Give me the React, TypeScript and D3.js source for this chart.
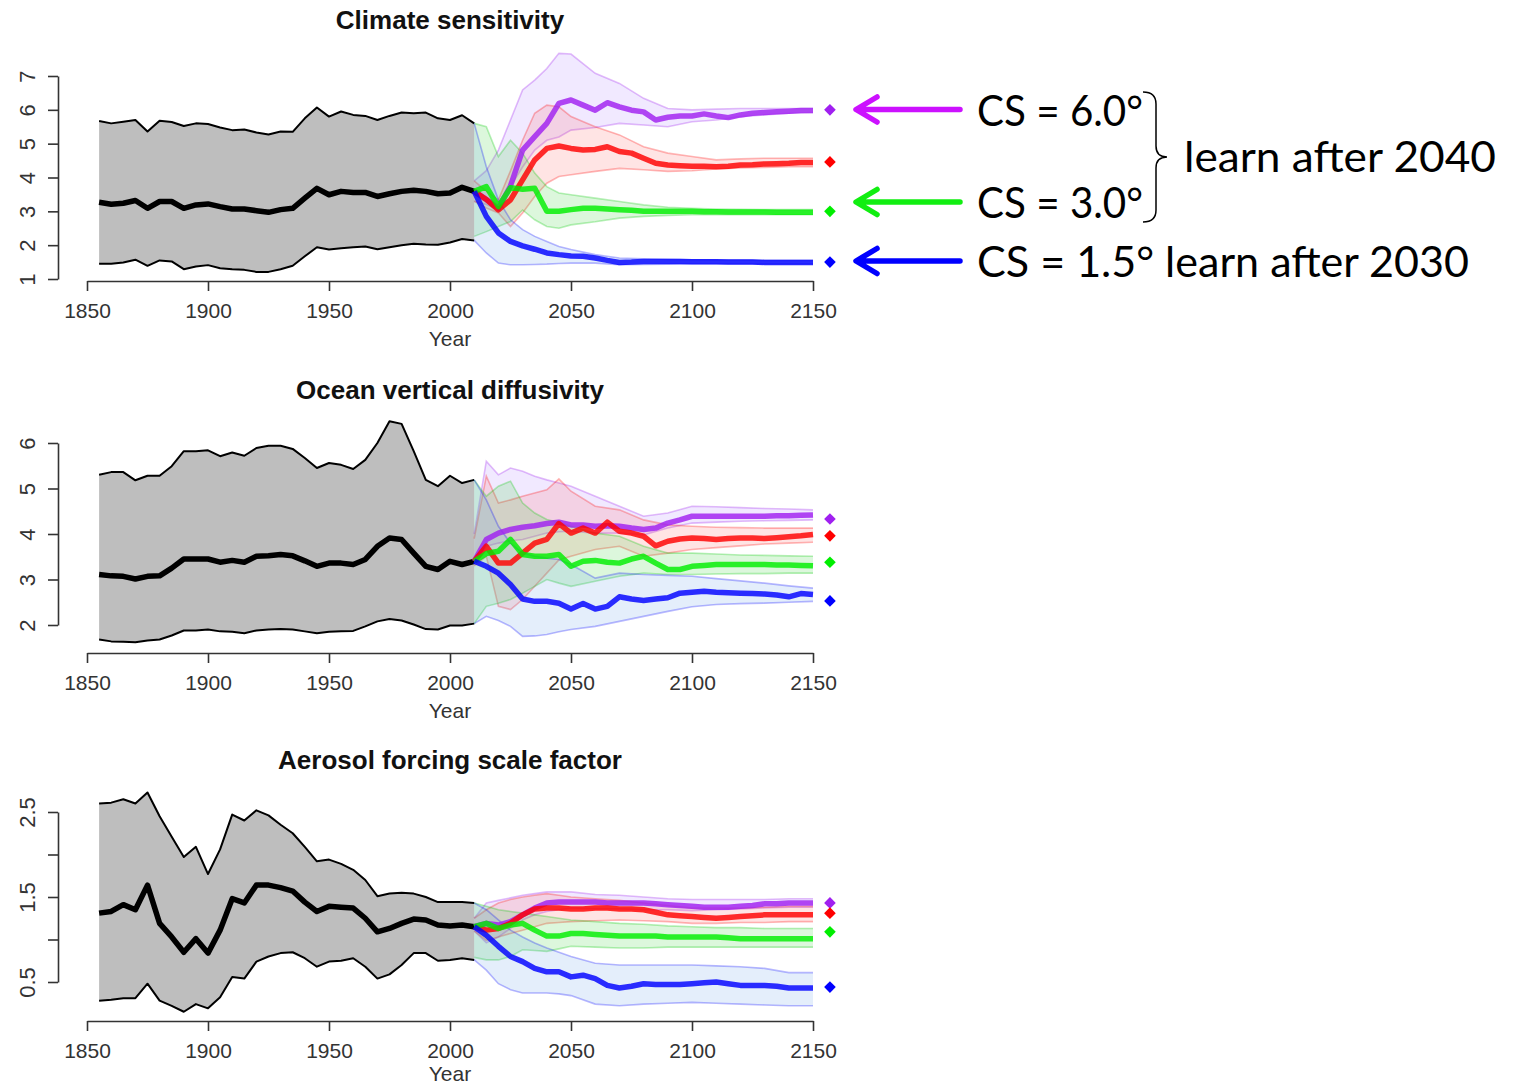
import React, { useEffect, useRef } from 'react';
import * as d3 from 'd3';

// ---- years ----
const HIST_YEARS = [1855, 1860, 1865, 1870, 1875, 1880, 1885, 1890, 1895, 1900, 1905, 1910, 1915, 1920, 1925, 1930,
  1935, 1940, 1945, 1950, 1955, 1960, 1965, 1970, 1975, 1980, 1985, 1990, 1995, 2000, 2005, 2010];
const FUT_YEARS = [2010, 2015, 2020, 2025, 2030, 2035, 2040, 2045, 2050, 2055, 2060, 2065, 2070, 2075, 2080, 2085,
  2090, 2095, 2100, 2105, 2110, 2115, 2120, 2125, 2130, 2135, 2140, 2145, 2150];
const BAND_YEARS = [2010, 2015, 2020, 2025, 2030, 2035, 2040, 2045, 2050, 2060, 2070, 2080, 2090, 2100, 2110, 2120,
  2130, 2140, 2150];
const DIAMOND_YEAR = 2157;
const X_TICKS = [1850, 1900, 1950, 2000, 2050, 2100, 2150];

// scenario order: purple (CS 6.0), red, green (CS 3.0), blue (CS 1.5)
const LINE_COLORS = ['#a020f0', '#ff0000', '#00ee00', '#0000ff'];
const BAND_FILLS = ['rgba(170,120,255,0.16)', 'rgba(255,90,90,0.16)', 'rgba(60,210,60,0.18)', 'rgba(90,150,230,0.16)'];
const BAND_EDGES = ['rgba(160,32,240,0.3)', 'rgba(255,0,0,0.28)', 'rgba(0,200,0,0.28)', 'rgba(0,0,255,0.28)'];

// ---- Climate sensitivity ----
const CS_HIST_HI = [5.67, 5.60, 5.65, 5.70, 5.36, 5.68, 5.64, 5.52, 5.60, 5.58, 5.48, 5.40, 5.42, 5.33, 5.27, 5.36,
  5.35, 5.75, 6.07, 5.80, 5.95, 5.85, 5.82, 5.70, 5.82, 5.92, 5.90, 5.92, 5.75, 5.70, 5.84, 5.60];
const CS_HIST_MED = [3.27, 3.21, 3.24, 3.32, 3.09, 3.29, 3.29, 3.09, 3.19, 3.22, 3.14, 3.07, 3.07, 3.02, 2.97, 3.05,
  3.09, 3.39, 3.68, 3.49, 3.59, 3.56, 3.56, 3.44, 3.52, 3.59, 3.62, 3.59, 3.52, 3.54, 3.71, 3.59];
const CS_HIST_LO = [1.45, 1.45, 1.49, 1.57, 1.39, 1.55, 1.52, 1.29, 1.37, 1.41, 1.32, 1.29, 1.27, 1.21, 1.21, 1.29,
  1.39, 1.67, 1.94, 1.87, 1.91, 1.94, 1.96, 1.88, 1.94, 2.00, 2.04, 2.02, 2.01, 2.08, 2.18, 2.14];
const CS_MED = [
  [3.59, 3.35, 3.09, 3.75, 4.81, 5.21, 5.60, 6.19, 6.29, 6.14, 5.99, 6.21, 6.09, 5.99, 5.94, 5.70, 5.78, 5.82, 5.82,
    5.88, 5.82, 5.77, 5.85, 5.90, 5.92, 5.94, 5.96, 5.98, 5.98],
  [3.59, 3.35, 3.04, 3.34, 3.93, 4.52, 4.86, 4.93, 4.86, 4.81, 4.83, 4.91, 4.77, 4.72, 4.57, 4.42, 4.37, 4.35, 4.33,
    4.33, 4.32, 4.33, 4.37, 4.38, 4.40, 4.41, 4.42, 4.44, 4.44],
  [3.59, 3.73, 3.14, 3.70, 3.65, 3.68, 3.00, 3.00, 3.05, 3.09, 3.09, 3.07, 3.05, 3.03, 3.00, 3.00, 3.00, 3.00, 3.00,
    2.99, 2.99, 2.98, 2.98, 2.98, 2.98, 2.97, 2.97, 2.97, 2.97],
  [3.59, 2.85, 2.36, 2.11, 1.98, 1.88, 1.77, 1.72, 1.68, 1.67, 1.62, 1.55, 1.49, 1.50, 1.52, 1.52, 1.52, 1.52, 1.51,
    1.51, 1.51, 1.50, 1.50, 1.50, 1.49, 1.49, 1.49, 1.49, 1.49],
];
const CS_HI = [
  [3.90, 4.20, 4.81, 5.70, 6.59, 6.88, 7.22, 7.67, 7.65, 7.08, 6.78, 6.34, 6.04, 6.00, 6.02, 6.04, 6.04, 6.04, 6.04],
  [3.90, 3.60, 3.34, 4.20, 5.10, 5.90, 6.14, 6.09, 5.80, 5.50, 5.26, 4.91, 4.72, 4.62, 4.52, 4.55, 4.57, 4.57, 4.57],
  [5.60, 5.50, 4.62, 5.10, 4.72, 4.13, 3.73, 3.54, 3.49, 3.39, 3.29, 3.19, 3.12, 3.09, 3.07, 3.06, 3.05, 3.05, 3.05],
  [5.60, 4.32, 3.34, 2.75, 2.46, 2.26, 2.11, 1.96, 1.87, 1.72, 1.62, 1.60, 1.58, 1.57, 1.56, 1.56, 1.55, 1.55, 1.55],
];
const CS_LO = [
  [3.30, 3.20, 3.05, 3.73, 4.31, 4.81, 5.10, 5.20, 5.40, 5.48, 5.60, 5.55, 5.50, 5.65, 5.70, 5.80, 5.85, 5.90, 5.92],
  [3.30, 3.10, 2.95, 2.55, 2.95, 3.44, 3.83, 4.03, 4.08, 4.18, 4.27, 4.23, 4.18, 4.20, 4.25, 4.28, 4.30, 4.32, 4.32],
  [2.26, 2.40, 2.55, 2.70, 3.04, 2.75, 2.55, 2.50, 2.60, 2.69, 2.80, 2.85, 2.88, 2.90, 2.90, 2.90, 2.90, 2.90, 2.90],
  [2.14, 1.77, 1.47, 1.42, 1.42, 1.43, 1.44, 1.46, 1.47, 1.47, 1.42, 1.43, 1.44, 1.45, 1.45, 1.45, 1.45, 1.45, 1.45],
];
const CS_DIAMONDS = [6.0, 4.46, 3.0, 1.5];

// ---- Ocean vertical diffusivity ----
const OVD_HIST_HI = [5.30, 5.36, 5.36, 5.18, 5.28, 5.28, 5.49, 5.82, 5.82, 5.84, 5.71, 5.79, 5.72, 5.89, 5.94, 5.94,
  5.87, 5.67, 5.45, 5.56, 5.52, 5.43, 5.63, 6.00, 6.48, 6.42, 5.82, 5.19, 5.05, 5.28, 5.12, 5.19];
const OVD_HIST_MED = [3.11, 3.08, 3.07, 3.01, 3.07, 3.08, 3.25, 3.45, 3.45, 3.45, 3.38, 3.42, 3.38, 3.51, 3.52, 3.55,
  3.52, 3.41, 3.29, 3.36, 3.36, 3.33, 3.44, 3.73, 3.91, 3.88, 3.58, 3.29, 3.22, 3.40, 3.33, 3.40];
const OVD_HIST_LO = [1.68, 1.64, 1.63, 1.62, 1.66, 1.68, 1.77, 1.88, 1.88, 1.90, 1.86, 1.85, 1.82, 1.88, 1.90, 1.91,
  1.90, 1.86, 1.82, 1.85, 1.86, 1.87, 1.97, 2.08, 2.13, 2.10, 2.01, 1.91, 1.90, 1.99, 1.99, 2.03];
const OVD_MED = [
  [3.40, 3.88, 4.02, 4.10, 4.15, 4.18, 4.23, 4.26, 4.20, 4.20, 4.17, 4.18, 4.17, 4.13, 4.10, 4.13, 4.24, 4.31, 4.39,
    4.39, 4.39, 4.39, 4.39, 4.39, 4.39, 4.40, 4.40, 4.41, 4.42],
  [3.40, 3.73, 3.36, 3.36, 3.58, 3.80, 3.88, 4.23, 4.02, 4.13, 4.02, 4.26, 4.06, 4.02, 3.95, 3.74, 3.84, 3.89, 3.91,
    3.90, 3.88, 3.90, 3.91, 3.91, 3.90, 3.92, 3.94, 3.96, 3.99],
  [3.40, 3.57, 3.62, 3.88, 3.55, 3.51, 3.51, 3.55, 3.29, 3.40, 3.42, 3.38, 3.36, 3.45, 3.51, 3.36, 3.22, 3.22, 3.29,
    3.31, 3.33, 3.33, 3.33, 3.33, 3.33, 3.32, 3.32, 3.31, 3.30],
  [3.40, 3.29, 3.14, 2.89, 2.57, 2.52, 2.52, 2.48, 2.35, 2.47, 2.35, 2.41, 2.62, 2.57, 2.54, 2.57, 2.60, 2.70, 2.72,
    2.74, 2.72, 2.71, 2.70, 2.69, 2.68, 2.66, 2.62, 2.69, 2.67],
];
const OVD_HI = [
  [4.00, 5.60, 5.30, 5.45, 5.38, 5.27, 5.19, 5.12, 5.05, 4.83, 4.61, 4.39, 4.46, 4.61, 4.60, 4.58, 4.56, 4.55, 4.53],
  [3.90, 5.27, 4.68, 4.75, 4.83, 4.90, 4.97, 5.21, 4.94, 4.61, 4.53, 4.31, 4.20, 4.17, 4.15, 4.14, 4.13, 4.13, 4.13],
  [5.19, 4.83, 5.05, 5.16, 4.68, 4.46, 4.32, 4.25, 4.17, 4.02, 3.95, 3.73, 3.58, 3.58, 3.56, 3.54, 3.53, 3.52, 3.51],
  [5.19, 4.75, 4.17, 3.80, 3.58, 3.51, 3.47, 3.44, 3.33, 3.03, 3.14, 3.11, 3.09, 3.07, 3.02, 2.97, 2.92, 2.86, 2.81],
];
const OVD_LO = [
  [3.40, 3.73, 3.80, 3.85, 3.88, 3.95, 4.02, 4.05, 4.06, 4.02, 4.02, 3.98, 4.13, 4.24, 4.26, 4.28, 4.29, 4.30, 4.31],
  [3.30, 3.51, 2.41, 2.34, 2.56, 2.85, 3.14, 3.43, 3.51, 3.66, 3.73, 3.51, 3.58, 3.66, 3.70, 3.74, 3.78, 3.80, 3.82],
  [2.03, 2.41, 2.48, 2.56, 2.70, 2.85, 3.00, 2.92, 2.85, 2.96, 3.07, 3.14, 3.11, 3.11, 3.12, 3.13, 3.13, 3.14, 3.14],
  [2.03, 2.19, 2.10, 1.97, 1.75, 1.76, 1.79, 1.85, 1.90, 1.97, 2.08, 2.19, 2.30, 2.40, 2.45, 2.47, 2.48, 2.50, 2.52],
];
const OVD_DIAMONDS = [4.33, 3.96, 3.38, 2.53];

// ---- Aerosol forcing scale factor ----
const AER_HIST_HI = [2.60, 2.61, 2.65, 2.60, 2.73, 2.45, 2.21, 1.97, 2.09, 1.77, 2.06, 2.47, 2.40, 2.52, 2.46, 2.35,
  2.25, 2.09, 1.92, 1.94, 1.89, 1.82, 1.70, 1.51, 1.54, 1.55, 1.54, 1.50, 1.44, 1.44, 1.44, 1.43];
const AER_HIST_MED = [1.31, 1.33, 1.41, 1.35, 1.64, 1.19, 1.03, 0.85, 1.01, 0.84, 1.11, 1.48, 1.43, 1.64, 1.64, 1.61,
  1.57, 1.44, 1.33, 1.39, 1.38, 1.37, 1.25, 1.09, 1.13, 1.19, 1.24, 1.23, 1.17, 1.16, 1.17, 1.15];
const AER_HIST_LO = [0.28, 0.29, 0.31, 0.31, 0.48, 0.28, 0.22, 0.15, 0.24, 0.19, 0.32, 0.56, 0.54, 0.74, 0.80, 0.84,
  0.85, 0.78, 0.68, 0.74, 0.75, 0.78, 0.68, 0.54, 0.59, 0.70, 0.84, 0.84, 0.75, 0.76, 0.78, 0.76];
const AER_MED = [
  [1.15, 1.19, 1.17, 1.21, 1.29, 1.37, 1.43, 1.44, 1.44, 1.44, 1.44, 1.43, 1.43, 1.43, 1.43, 1.42, 1.41, 1.40, 1.39,
    1.38, 1.38, 1.38, 1.39, 1.40, 1.42, 1.42, 1.43, 1.43, 1.43],
  [1.15, 1.11, 1.13, 1.19, 1.29, 1.36, 1.37, 1.37, 1.36, 1.36, 1.37, 1.37, 1.36, 1.36, 1.35, 1.32, 1.29, 1.28, 1.27,
    1.26, 1.25, 1.26, 1.27, 1.28, 1.29, 1.29, 1.29, 1.29, 1.29],
  [1.15, 1.19, 1.13, 1.17, 1.19, 1.11, 1.04, 1.04, 1.07, 1.07, 1.06, 1.05, 1.04, 1.04, 1.04, 1.04, 1.03, 1.03, 1.03,
    1.03, 1.03, 1.02, 1.01, 1.01, 1.01, 1.01, 1.01, 1.01, 1.01],
  [1.15, 1.05, 0.92, 0.80, 0.74, 0.66, 0.62, 0.62, 0.56, 0.58, 0.54, 0.46, 0.43, 0.45, 0.48, 0.47, 0.47, 0.47, 0.48,
    0.49, 0.50, 0.48, 0.46, 0.46, 0.46, 0.45, 0.43, 0.43, 0.43],
];
const AER_HI = [
  [1.25, 1.43, 1.46, 1.49, 1.52, 1.54, 1.56, 1.56, 1.56, 1.53, 1.52, 1.50, 1.48, 1.47, 1.47, 1.47, 1.47, 1.48, 1.48],
  [1.25, 1.35, 1.43, 1.47, 1.50, 1.52, 1.54, 1.52, 1.50, 1.48, 1.46, 1.43, 1.40, 1.37, 1.37, 1.37, 1.38, 1.39, 1.39],
  [1.43, 1.39, 1.35, 1.33, 1.31, 1.29, 1.27, 1.25, 1.23, 1.21, 1.19, 1.18, 1.16, 1.15, 1.14, 1.14, 1.13, 1.13, 1.13],
  [1.43, 1.35, 1.23, 1.11, 1.03, 0.96, 0.90, 0.85, 0.80, 0.72, 0.70, 0.70, 0.70, 0.70, 0.69, 0.68, 0.66, 0.61, 0.61],
];
const AER_LO = [
  [1.10, 0.96, 1.03, 1.13, 1.23, 1.29, 1.33, 1.35, 1.37, 1.36, 1.36, 1.35, 1.35, 1.34, 1.35, 1.36, 1.37, 1.38, 1.38],
  [1.10, 0.99, 1.03, 1.07, 1.11, 1.15, 1.19, 1.20, 1.21, 1.22, 1.23, 1.22, 1.21, 1.19, 1.19, 1.20, 1.20, 1.21, 1.21],
  [0.79, 0.76, 0.76, 0.80, 0.88, 0.87, 0.86, 0.89, 0.92, 0.91, 0.90, 0.90, 0.91, 0.91, 0.91, 0.91, 0.91, 0.91, 0.91],
  [0.76, 0.64, 0.48, 0.41, 0.37, 0.37, 0.37, 0.36, 0.34, 0.24, 0.22, 0.24, 0.25, 0.26, 0.25, 0.24, 0.23, 0.22, 0.22],
];
const AER_DIAMONDS = [1.43, 1.31, 1.09, 0.44];

const PANELS = [
  { title: 'Climate sensitivity', titleY: 29, yDomain: [1, 7], yRange: [279, 76], yTicks: [1, 2, 3, 4, 5, 6, 7],
    yLabels: [1, 2, 3, 4, 5, 6, 7], axisY: 281, yearY: 346, hi: CS_HIST_HI, med: CS_HIST_MED, lo: CS_HIST_LO,
    fmed: CS_MED, fhi: CS_HI, flo: CS_LO, diamonds: CS_DIAMONDS },
  { title: 'Ocean vertical diffusivity', titleY: 399, yDomain: [2, 6], yRange: [625, 443], yTicks: [2, 3, 4, 5, 6],
    yLabels: [2, 3, 4, 5, 6], axisY: 653, yearY: 718, hi: OVD_HIST_HI, med: OVD_HIST_MED, lo: OVD_HIST_LO,
    fmed: OVD_MED, fhi: OVD_HI, flo: OVD_LO, diamonds: OVD_DIAMONDS },
  { title: 'Aerosol forcing scale factor', titleY: 769, yDomain: [0.5, 2.5], yRange: [982, 812],
    yTicks: [0.5, 1, 1.5, 2, 2.5], yLabels: [0.5, 1.5, 2.5], axisY: 1021, yearY: 1081, hi: AER_HIST_HI,
    med: AER_HIST_MED, lo: AER_HIST_LO, fmed: AER_MED, fhi: AER_HI, flo: AER_LO, diamonds: AER_DIAMONDS },
];

const x = d3.scaleLinear().domain([1850, 2150]).range([87, 813]);
const AXIS_FONT = '"Liberation Sans", Arial, Helvetica, sans-serif';

function Panel({ p }: { p: any }) {
  const gx = useRef<SVGGElement>(null);
  const gy = useRef<SVGGElement>(null);
  const y = d3.scaleLinear().domain(p.yDomain).range(p.yRange);

  useEffect(() => {
    const ax = d3.select(gx.current!);
    ax.call(d3.axisBottom(x).tickValues(X_TICKS).tickSize(10).tickSizeOuter(0).tickPadding(12).tickFormat(d3.format('d')) as any);
    ax.selectAll('path, line').attr('stroke', '#333').attr('stroke-width', 1.6);
    ax.selectAll('text').attr('font-size', 21).attr('font-family', AXIS_FONT).attr('fill', '#333');

    const ay = d3.select(gy.current!);
    const fmt = p.yLabels.length < p.yTicks.length ? d3.format('.1f') : d3.format('d');
    ay.call(d3.axisLeft(y).tickValues(p.yTicks).tickSize(10).tickSizeOuter(0)
      .tickFormat((d: any) => (p.yLabels.includes(d) ? fmt(d) : '')) as any);
    ay.selectAll('path, line').attr('stroke', '#333').attr('stroke-width', 1.6);
    ay.selectAll('text').attr('font-size', 22).attr('font-family', AXIS_FONT).attr('fill', '#333')
      .attr('transform', 'rotate(-90)').attr('x', 0).attr('y', -23).attr('dy', 0).attr('text-anchor', 'middle');
  }, []);

  const hist = HIST_YEARS.map((yr, i) => ({ yr, hi: p.hi[i], med: p.med[i], lo: p.lo[i] }));
  const histArea = d3.area<any>().x(d => x(d.yr)).y0(d => y(d.lo)).y1(d => y(d.hi));
  const lineOf = (key: string) => d3.line<any>().x(d => x(d.yr)).y(d => y(d[key]));
  const sym = d3.symbol(d3.symbolSquare, 68)();

  return (
    <g>
      <text x={450} y={p.titleY} textAnchor="middle" fontFamily={AXIS_FONT} fontWeight="bold" fontSize={26}
        fill="#111">{p.title}</text>
      <path d={histArea(hist)!} fill="#bebebe" />
      <path d={lineOf('hi')(hist)!} fill="none" stroke="#000" strokeWidth={2} strokeLinejoin="round" />
      <path d={lineOf('lo')(hist)!} fill="none" stroke="#000" strokeWidth={2} strokeLinejoin="round" />
      {p.fhi.map((hiArr: number[], s: number) => {
        const band = BAND_YEARS.map((yr, i) => ({ yr, hi: hiArr[i], lo: p.flo[s][i] }));
        return (
          <g key={'b' + s}>
            <path d={histArea(band)!} fill={BAND_FILLS[s]} />
            <path d={lineOf('hi')(band)!} fill="none" stroke={BAND_EDGES[s]} strokeWidth={1.6} />
            <path d={lineOf('lo')(band)!} fill="none" stroke={BAND_EDGES[s]} strokeWidth={1.6} />
          </g>
        );
      })}
      <path d={lineOf('med')(hist)!} fill="none" stroke="#000" strokeWidth={5.5} strokeLinejoin="round" />
      {p.fmed.map((medArr: number[], s: number) => {
        const pts = FUT_YEARS.map((yr, i) => ({ yr, med: medArr[i] }));
        return (
          <path key={'m' + s} d={lineOf('med')(pts)!} fill="none" stroke={LINE_COLORS[s]} strokeOpacity={0.82}
            strokeWidth={5.5} strokeLinejoin="round" />
        );
      })}
      {p.diamonds.map((v: number, s: number) => (
        <path key={'d' + s} d={sym!} fill={LINE_COLORS[s]}
          transform={`translate(${x(DIAMOND_YEAR)},${y(v)}) rotate(45)`} />
      ))}
      <g ref={gx} transform={`translate(0,${p.axisY})`} />
      <g ref={gy} transform="translate(58,0)" />
      <text x={450} y={p.yearY} textAnchor="middle" fontFamily={AXIS_FONT} fontSize={21} fill="#333">Year</text>
    </g>
  );
}

const ARROWS = [
  { y: 109.5, color: '#cc11ff', label: 'CS = 6.0°', width: 166 },
  { y: 202, color: '#11ee11', label: 'CS = 3.0°', width: 166 },
  { y: 261, color: '#0000ff', label: 'CS = 1.5° learn after 2030', width: 492 },
];
const NOTE_FONT = 'Lato, "Open Sans", sans-serif';

export default function App() {
  return (
    <svg width={1514} height={1088} style={{ position: 'absolute', left: 0, top: 0, background: '#fff' }}>
      {PANELS.map((p, i) => <Panel key={i} p={p} />)}
      {ARROWS.map((a, i) => (
        <g key={i}>
          <path d={`M960,${a.y}H857M877,${a.y - 12.5}L856,${a.y}L877,${a.y + 12.5}`} fill="none" stroke={a.color}
            strokeWidth={5.5} strokeLinecap="round" strokeLinejoin="round" />
          <text x={977} y={a.y + 16} fontFamily={NOTE_FONT} fontSize={43} fill="#000" textLength={a.width}
            lengthAdjust="spacingAndGlyphs">{a.label}</text>
        </g>
      ))}
      <path d="M1143,92Q1156,92 1156,104V146Q1156,157 1167,157Q1156,157 1156,168V210Q1156,222 1143,222"
        fill="none" stroke="#000" strokeWidth={1.5} />
      <text x={1184} y={172} fontFamily={NOTE_FONT} fontSize={43} fill="#000" textLength={312}
        lengthAdjust="spacingAndGlyphs">learn after 2040</text>
    </svg>
  );
}
